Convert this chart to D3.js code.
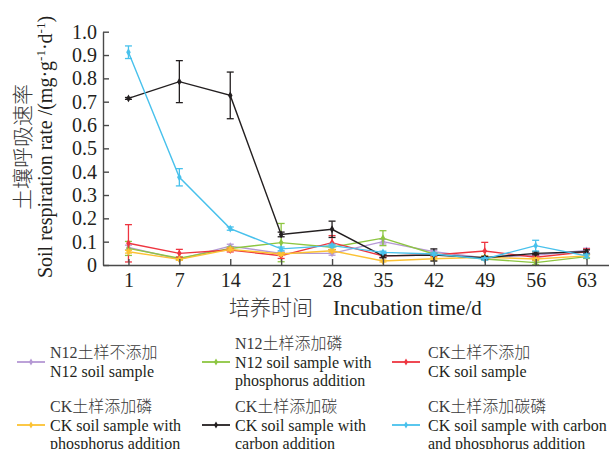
<!DOCTYPE html>
<html>
<head>
<meta charset="utf-8">
<script src="https://cdn.jsdelivr.net/npm/d3@7"></script>
<style>
  body { margin: 0; background: #fff; }
  text { font-family: "Liberation Serif", "Noto Sans CJK SC", serif; fill: #231f20; }
  .tick text { font-size: 20px; }
  .axis path, .axis line { stroke: #4a4a4a; stroke-width: 1.4; }
  .legend { font-size: 16px; }
  .cjk { font-weight: 300; fill: #3a3a3a; }
</style>
</head>
<body>
<svg id="chart" width="609" height="449"></svg>
<script>
// incubation days
let days = ["1","7","14","21","28","35","42","49","56","63"]

let n12      = [0.075,0.025,0.081,0.050,0.050,0.100,0.057,0.030,0.043,0.062]
let n12Err   = [0.010,0.005,0.008,0.006,0.008,0.010,0.006,0.005,0.006,0.010]
let n12P     = [0.071,0.029,0.071,0.096,0.076,0.115,0.047,0.026,0.010,0.036]
let n12PErr  = [0.030,0.006,0.006,0.082,0.010,0.032,0.006,0.004,0.008,0.008]
let ck       = [0.093,0.050,0.064,0.040,0.096,0.039,0.043,0.060,0.033,0.057]
let ckErr    = [0.080,0.017,0.008,0.012,0.030,0.006,0.006,0.037,0.010,0.012]
let ckP      = [0.057,0.024,0.067,0.047,0.061,0.017,0.027,0.033,0.026,0.039]
let ckPErr   = [0.006,0.004,0.006,0.006,0.006,0.004,0.006,0.006,0.004,0.006]
let ckC      = [0.714,0.786,0.727,0.131,0.153,0.039,0.043,0.031,0.050,0.057]
let ckCErr   = [0.004,0.090,0.100,0.010,0.035,0.008,0.026,0.006,0.006,0.008]
let ckCP     = [0.912,0.376,0.156,0.069,0.083,0.054,0.047,0.026,0.083,0.039]
let ckCPErr  = [0.027,0.037,0.007,0.008,0.006,0.005,0.005,0.005,0.023,0.008]

let yTicks = [0,0.1,0.2,0.3,0.4,0.5,0.6,0.7,0.8,0.9,1.0]

let seriesNames = [
    ["N12土样不添加","N12 soil sample"],
    ["N12土样添加磷","N12 soil sample with","phosphorus addition"],
    ["CK土样不添加","CK soil sample"],
    ["CK土样添加磷","CK soil sample with","phosphorus addition"],
    ["CK土样添加碳","CK soil sample with","carbon addition"],
    ["CK土样添加碳磷","CK soil sample with carbon","and phosphorus addition"]
]
let seriesValues = [n12, n12P, ck, ckP, ckC, ckCP]
let seriesErrors = [n12Err, n12PErr, ckErr, ckPErr, ckCErr, ckCPErr]
let seriesColors = ["#b598d4","#8dc641","#ee3540","#fcc233","#231f20","#48c1ec"]

let svg = d3.select("#chart")

let xScale = d3.scalePoint().domain(days).range([103,612]).padding(0.5)
let yScale = d3.scaleLinear().domain([0,1]).range([265,31.7])

let line = d3.line()
    .x(function(d,i){return xScale(days[i])})
    .y(function(d){return yScale(d)})

// series: line, error bars, markers
seriesValues.forEach(function(vals,s){
    let g = svg.append("g")
    let col = seriesColors[s]
    g.append("path").datum(vals)
        .attr("d",line)
        .attr("fill","none")
        .attr("stroke",col)
        .attr("stroke-width",1.4)

    let err = g.selectAll(".err").data(vals).enter().append("g")
        .attr("transform",function(d,i){return `translate(${xScale(days[i])},0)`})
        .attr("stroke",col).attr("stroke-width",1.3)
    err.append("line")
        .attr("y1",function(d,i){return yScale(d-seriesErrors[s][i])})
        .attr("y2",function(d,i){return yScale(d+seriesErrors[s][i])})
    err.append("line").attr("x1",-3.5).attr("x2",3.5)
        .attr("y1",function(d,i){return yScale(d+seriesErrors[s][i])})
        .attr("y2",function(d,i){return yScale(d+seriesErrors[s][i])})
    err.append("line").attr("x1",-3.5).attr("x2",3.5)
        .attr("y1",function(d,i){return yScale(d-seriesErrors[s][i])})
        .attr("y2",function(d,i){return yScale(d-seriesErrors[s][i])})

    g.selectAll(".mk").data(vals).enter().append("path")
        .attr("d",d3.symbol().type(d3.symbolDiamond).size(18))
        .attr("transform",function(d,i){return `translate(${xScale(days[i])},${yScale(d)})`})
        .attr("fill",col)
})

// axes, ticks pointing inward
let x_axis = d3.axisBottom(xScale).tickSizeInner(-6).tickSizeOuter(0).tickPadding(8)
let y_axis = d3.axisLeft(yScale).tickValues(yTicks).tickSizeInner(-6).tickSizeOuter(0).tickPadding(6)
    .tickFormat(function(d){return d===0 ? "0" : d3.format(".1f")(d)})

svg.append("g").attr("class","axis")
    .attr("transform",`translate(0,${265})`)
    .call(x_axis)
svg.append("g").attr("class","axis")
    .attr("transform",`translate(${103},0)`)
    .call(y_axis)
svg.selectAll(".axis .tick text").attr("fill","#231f20")

// y label, two rotated lines
svg.append("text").attr("class","cjk")
    .attr("transform","translate(30,147) rotate(-90)")
    .attr("text-anchor","middle")
    .style("font-size","21px")
    .text("土壤呼吸速率")
let yl = svg.append("text")
    .attr("transform","translate(52,147) rotate(-90)")
    .attr("text-anchor","middle")
    .style("font-size","20px")
yl.append("tspan").text("Soil respiration rate /(mg·g")
yl.append("tspan").attr("dy",-7).style("font-size","13px").text("-1")
yl.append("tspan").attr("dy",7).text("·d")
yl.append("tspan").attr("dy",-7).style("font-size","13px").text("-1")
yl.append("tspan").attr("dy",7).text(")")

// x label
svg.append("text").attr("class","cjk").attr("x",229).attr("y",315)
    .style("font-size","21px").text("培养时间")
svg.append("text").attr("x",333).attr("y",315)
    .style("font-size","21px").text("Incubation time/d")

// legend
let legendCols = [[17,50],[202,235],[392,428]]
let legendRows = [362,425]
seriesNames.forEach(function(lines,i){
    let c = legendCols[i%3]
    let ry = legendRows[Math.floor(i/3)]
    let lg = svg.append("g")
    lg.append("line").attr("x1",c[0]).attr("x2",c[0]+28)
        .attr("y1",ry).attr("y2",ry)
        .attr("stroke",seriesColors[i]).attr("stroke-width",1.8)
    lg.append("path")
        .attr("d",d3.symbol().type(d3.symbolDiamond).size(14))
        .attr("transform",`translate(${c[0]+14},${ry})`)
        .attr("fill",seriesColors[i])
    let start = ry - (lines.length-1)*18.4/2
    lines.forEach(function(t,k){
        lg.append("text").attr("class",k===0 ? "legend cjk" : "legend")
            .attr("x",c[1]).attr("y",start+k*18.4)
            .attr("dy","0.35em")
            .text(t)
    })
})
</script>
</body>
</html>
